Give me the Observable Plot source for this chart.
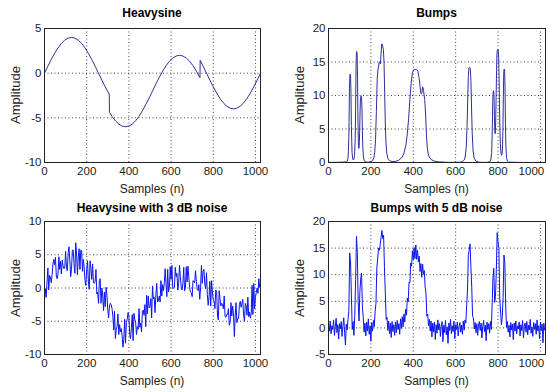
<!DOCTYPE html>
<html><head><meta charset="utf-8">
<script src="https://cdn.jsdelivr.net/npm/d3@7"></script>
<script src="https://cdn.jsdelivr.net/npm/@observablehq/plot@0.6"></script>
<style>
html,body{margin:0;padding:0;background:#fff;}
body{width:549px;height:392px;overflow:hidden;position:relative;font-family:"Liberation Sans",Arial,sans-serif;}
.panel{position:absolute;}
.title{position:absolute;font-weight:bold;font-size:12px;transform:translate(-50%,-50%);white-space:nowrap;color:#000;}
.xlab{position:absolute;font-size:12px;transform:translate(-50%,-50%);white-space:nowrap;color:#222;}
.ylab{position:absolute;font-size:13px;transform:translate(-50%,-50%) rotate(-90deg);white-space:nowrap;color:#222;}
</style></head><body><div id="fig"></div>
<script>
// ---- data ----
const xTicks = [0, 200, 400, 600, 800, 1000];
const yTicksHeavy = [-10, -5, 0, 5];
const yTicksBumps = [0, 5, 10, 15, 20];
const yTicksHeavyNoisy = [-10, -5, 0, 5, 10];
const yTicksBumpsNoisy = [-5, 0, 5, 10, 15, 20];

const titles = ["Heavysine", "Bumps", "Heavysine with 3 dB noise", "Bumps with 5 dB noise"];
const xLabel = "Samples (n)";
const yLabel = "Amplitude";

const heavyN = [0,16,32,48,64,80,96,112,128,144,160,176,192,208,224,240,256,272,288,304,307,308,320,336,352,368,384,400,416,432,448,464,480,496,512,528,544,560,576,592,608,624,640,656,672,688,704,720,736,737,738,752,768,784,800,816,832,848,864,880,896,912,928,944,960,976,992,1008,1024];
const heavyV = [0,0.78,1.53,2.22,2.83,3.33,3.70,3.92,4.00,3.92,3.70,3.33,2.83,2.22,1.53,0.78,0,-0.78,-1.53,-2.22,-2.35,-4.38,-4.83,-5.33,-5.70,-5.92,-6.00,-5.92,-5.70,-5.33,-4.83,-4.22,-3.53,-2.78,-2.00,-1.22,-0.47,0.22,0.83,1.33,1.70,1.92,2.00,1.92,1.70,1.33,0.83,0.22,-0.47,-0.51,1.44,0.78,0,-0.78,-1.53,-2.22,-2.83,-3.33,-3.70,-3.92,-4.00,-3.92,-3.70,-3.33,-2.83,-2.22,-1.53,-0.78,0];

const bumpsN = [0,40,70,85,88,90,92,94,96,97,99,101,102,104,106,108,111,114,117,120,123,126,128,130,132,133,135,137,139,141,143,145,147,149,151,154,156,158,160,162,165,168,172,180,190,200,208,214,218,222,226,230,233,236,239,242,245,248,251,254,256,259,262,265,268,271,275,280,288,300,315,330,345,355,365,372,378,384,390,396,402,410,416,422,428,432,436,440,444,448,451,454,458,462,466,470,476,485,500,520,560,600,620,632,640,645,650,654,657,660,663,666,669,672,675,678,682,687,695,710,730,750,760,766,770,773,775,777,779,781,783,785,787,789,791,793,795,797,799,801,803,805,807,809,811,813,815,817,819,821,823,825,827,829,831,833,835,837,840,844,850,900,1024];
const bumpsV = [0.02,0.03,0.06,0.1,0.21,0.37,0.73,1.6,3.83,5.94,11.1,13.1,13.2,13.1,10.6,5.5,1.52,0.56,0.38,0.48,1.09,3.54,8.3,14.55,16.5,16.56,16.3,12.6,6.3,3.0,2.1,2.6,4.6,7.7,9.7,9.96,9.72,7.84,4.6,2.2,0.8,0.33,0.13,0.05,0.05,0.12,0.29,0.71,1.47,3.4,7.77,12.56,13.78,14.27,14.95,15.05,14.7,16.1,17.7,17.6,17.3,16.85,15.0,10.5,5.9,3.07,1.38,0.62,0.26,0.15,0.17,0.31,0.68,1.26,2.56,4.31,6.52,9.4,11.87,13.37,13.82,13.89,13.88,13.62,12.55,11.38,10.3,10.26,11.3,10.93,10.13,9.41,7.38,4.2,2.25,1.36,0.79,0.42,0.2,0.09,0.03,0.02,0.04,0.12,0.35,0.82,2.24,5.4,9.47,13.0,14.14,14.19,14.02,12.26,8.27,4.52,1.88,0.71,0.21,0.04,0.015,0.03,0.1,0.38,1.46,5.09,9.08,10.53,10.71,10.11,6.9,4.4,4.3,6.21,9.72,13.71,16.26,16.86,16.88,16.78,15.64,12.5,8.29,4.84,2.87,1.76,1.24,1.07,1.26,2.13,4.62,9.71,13.52,13.95,13.81,11.23,5.8,2.43,0.75,0.23,0.06,0.01,0];

// noisy signals, one value every 4 samples (n = 0, 4, ..., 1020)
const noisyN = d3.range(0, 1024, 4);
const heavyNoisyV = [
-1.8,-0.1,-1.4,0.9, 3.0,-0.3,1.9,1.6, 0.8,2.0,3.6,4.3, 3.5,4.6,1.8,1.4,
2.1,4.7,2.8,4.0, 2.1,4.2,3.3,2.9, 3.0,5.5,3.1,2.6, 5.2,6.2,4.2,1.7,
2.8,5.7,5.7,3.7, 2.2,6.8,5.1,2.0, 4.5,5.9,2.8,5.7, 5.6,2.5,4.3,3.2,
1.1,0.4,2.8,4.1, 1.0,-0.2,4.1,3.0, 1.3,3.6,0.9,0.7, 1.0,2.8,-0.9,-0.6,
-2.3,1.1,1.4,-2.3, 0.0,-1.2,-3.4,-0.6, -2.8,0.1,-1.1,-3.3, -4.5,-2.7,-2.3,-2.5,
-3.1,-4.2,-6.3,-3.5, -7.6,-6.2,-5.8,-3.9, -7.0,-5.5,-6.6,-6.1, -7.2,-8.9,-7.7,-4.7,
-8.3,-5.2,-4.7,-3.7, -4.2,-7.1,-7.6,-6.0, -4.0,-7.9,-3.8,-4.7, -5.1,-7.0,-5.8,-6.2,
-3.1,-5.9,-5.3,-6.6, -3.5,-3.3,-4.1,-2.5, -5.8,-1.1,-3.9,-1.2, -3.0,-2.8,-1.6,-4.5,
0.3,-1.6,-1.4,-3.7, -1.0,0.7,-2.1,-1.9, -1.2,-2.1,1.1,-1.2, 0.5,-0.4,0.8,2.9,
0.6,-1.3,2.8,-0.6, 0.1,3.2,1.3,3.4, -0.1,0.0,0.1,3.1, 1.7,2.2,-0.3,0.7,
3.4,1.7,0.2,-0.3, 0.7,3.1,-0.4,0.0, 3.2,0.9,3.3,1.7, 0.1,-0.6,-0.7,-1.3,
1.1,0.9,0.8,2.6, 1.0,-0.2,-0.4,0.5, -1.7,0.1,3.4,0.7, 2.5,2.8,0.6,-0.1,
2.3,-1.0,-2.6,-1.3, 1.0,-2.7,1.1,-0.6, -1.8,-2.0,-3.1,-0.3, -0.5,-4.1,-4.8,-0.4,
-1.6,-2.7,-2.3,-2.5, -3.1,-1.2,-4.3,-4.4, -4.0,-4.0,-3.1,-5.6, -5.2,-2.2,-4.2,-2.7,
-3.8,-7.3,-4.2,-2.2, -5.2,-4.6,-4.6,-2.5, -2.0,-2.9,-2.3,-1.7, -4.1,-5.0,-2.3,-2.7,
-4.1,-1.4,-4.3,-3.6, -4.5,-3.8,0.4,-4.0, 0.7,-3.1,-1.4,-0.7, 0.0,-0.8,1.4,0.1];
const bumpsNoisyV = [
0.9,-0.6,1.3,-1.1,0.4,-0.3,1.5,-1.4,0.2,1.8,-0.9,0.6,-2.1,0.8,-0.2,1.2,
-1.6,0.3,1.9,-0.8,-3.2,0.7,-0.4,1.6,3.1,14.1,12.4,6.2,-0.3,1.2,-1.4,2.3,
9.1,17.2,14.2,4.9,1.3,6.8,9.2,10.3,3.9,2.0,-0.8,0.9,-1.5,1.1,-0.6,1.7,
-1.2,0.4,-2.5,1.0,-0.6,1.4,0.2,3.1,4.6,11.3,12.9,15.0,14.6,15.7,17.0,18.3,
16.8,17.4,11.5,6.7,1.6,2.0,-0.5,1.3,-1.1,0.9,-1.8,1.2,-0.7,0.6,-1.4,1.1,
-0.9,1.4,-0.3,0.8,-1.2,1.7,-0.1,2.1,0.2,2.6,1.1,3.5,2.4,5.6,4.9,8.6,
8.5,12.2,11.6,14.5,12.8,15.1,13.0,15.6,12.9,14.6,12.4,13.5,10.6,12.1,9.5,12.0,
10.1,10.8,7.7,6.5,2.2,2.6,0.4,1.6,-0.6,1.3,-1.7,0.9,-0.8,1.1,-2.2,0.6,
-1.0,1.5,-0.4,0.8,-1.6,0.3,1.2,-2.6,0.5,-0.9,1.4,-1.3,0.2,-2.9,0.9,-0.5,
1.6,-1.1,0.4,-0.7,1.3,-2.0,0.6,-0.3,1.1,-1.5,0.2,1.0,-0.8,0.5,-1.2,1.3,
-0.4,1.5,0.9,4.2,7.3,13.8,14.6,15.8,11.4,7.6,2.1,1.9,-0.2,1.0,-0.9,0.8,
-1.4,0.6,1.2,-0.5,0.9,-1.9,0.3,1.4,-0.7,0.5,-2.4,1.1,-0.3,0.8,-1.0,1.2,
-0.3,4.1,9.4,11.2,4.8,5.9,11.0,17.9,16.2,14.9,5.6,3.0,0.6,2.1,5.7,13.7,
12.4,4.3,0.1,1.2,-0.8,0.5,-1.7,1.0,-0.4,0.7,-2.2,0.9,-0.6,1.3,-1.1,0.4,
-0.2,1.1,-1.5,0.6,-0.5,1.4,-1.9,0.3,0.9,-0.8,1.2,-1.3,0.5,-0.4,1.6,-1.0,
0.2,-1.6,1.0,-0.3,0.8,-1.2,1.5,-0.6,0.4,-2.0,1.1,-0.5,0.7,-2.8,0.9,-0.4];

const series = (ns, vs) => ns.map((n, i) => ({n, v: vs[i]}));

// ---- layout ----
const fig = document.getElementById("fig");
const panels = [
  {left: 0,   top: 0,   ml: 44, mr: 14, mt: 28, mb: 34, data: series(heavyN, heavyV), yd: [-10, 5], yt: yTicksHeavy, color: "#2e2e9c", sw: 1},
  {left: 274, top: 0,   ml: 54, mr: 4,  mt: 28, mb: 34, data: series(bumpsN, bumpsV), yd: [0, 20], yt: yTicksBumps, color: "#2e2e9c", sw: 1},
  {left: 0,   top: 196, ml: 44, mr: 14, mt: 25, mb: 38, data: series(noisyN, heavyNoisyV), yd: [-10, 10], yt: yTicksHeavyNoisy, color: "#0a14f0", sw: 1},
  {left: 274, top: 196, ml: 54, mr: 4,  mt: 25, mb: 38, data: series(noisyN, bumpsNoisyV), yd: [-5, 20], yt: yTicksBumpsNoisy, color: "#0a14f0", sw: 1}
];

const fmt = d => String(d);
panels.forEach((p, i) => {
  const W = i % 2 === 0 ? 274 : 275, H = 196;
  const right = i % 2 === 1;
  const xAxes = right
    ? [Plot.axisX(xTicks.slice(0, -1), {tickSize: 0, tickPadding: 4.5, tickFormat: fmt, label: null}),
       Plot.axisX(xTicks.slice(-1), {tickSize: 0, tickPadding: 4.5, tickFormat: fmt, label: null, dx: -9})]
    : [Plot.axisX(xTicks, {tickSize: 0, tickPadding: 4.5, tickFormat: fmt, label: null})];
  const chart = Plot.plot({
    width: W, height: H,
    marginLeft: p.ml, marginRight: p.mr, marginTop: p.mt, marginBottom: p.mb,
    x: {domain: [0, 1024]},
    y: {domain: p.yd},
    style: {fontFamily: "'Liberation Sans',Arial,sans-serif", fontSize: "11.5px", color: "#222", background: "transparent", overflow: "visible"},
    marks: [
      Plot.gridX(xTicks, {stroke: "#000", strokeOpacity: 0.75, strokeDasharray: "1,2.5"}),
      Plot.gridY(p.yt, {stroke: "#000", strokeOpacity: 0.75, strokeDasharray: "1,2.5"}),
      Plot.line(p.data, {x: "n", y: "v", stroke: p.color, strokeWidth: p.sw}),
      Plot.frame({stroke: "#222"}),
      ...xAxes,
      Plot.axisY(p.yt, {tickSize: 0, tickPadding: 3, tickFormat: fmt, label: null})
    ]
  });
  const wrap = document.createElement("div");
  wrap.className = "panel";
  wrap.style.left = p.left + "px";
  wrap.style.top = p.top + "px";
  wrap.appendChild(chart);
  fig.appendChild(wrap);

  const fx0 = p.left + p.ml, fx1 = p.left + W - p.mr;
  const fy0 = p.top + p.mt, fy1 = p.top + H - p.mb;
  const cx = (fx0 + fx1) / 2, cy = (fy0 + fy1) / 2;

  const t = document.createElement("div");
  t.className = "title"; t.textContent = titles[i];
  t.style.left = cx + "px"; t.style.top = (p.top + (p.top === 0 ? 13 : 12)) + "px";
  fig.appendChild(t);

  const xl = document.createElement("div");
  xl.className = "xlab"; xl.textContent = xLabel;
  xl.style.left = cx + "px"; xl.style.top = (fy1 + 27) + "px";
  fig.appendChild(xl);

  const yl = document.createElement("div");
  yl.className = "ylab"; yl.textContent = yLabel;
  yl.style.left = (fx0 - 29) + "px"; yl.style.top = cy + "px";
  fig.appendChild(yl);
});
</script></body></html>
